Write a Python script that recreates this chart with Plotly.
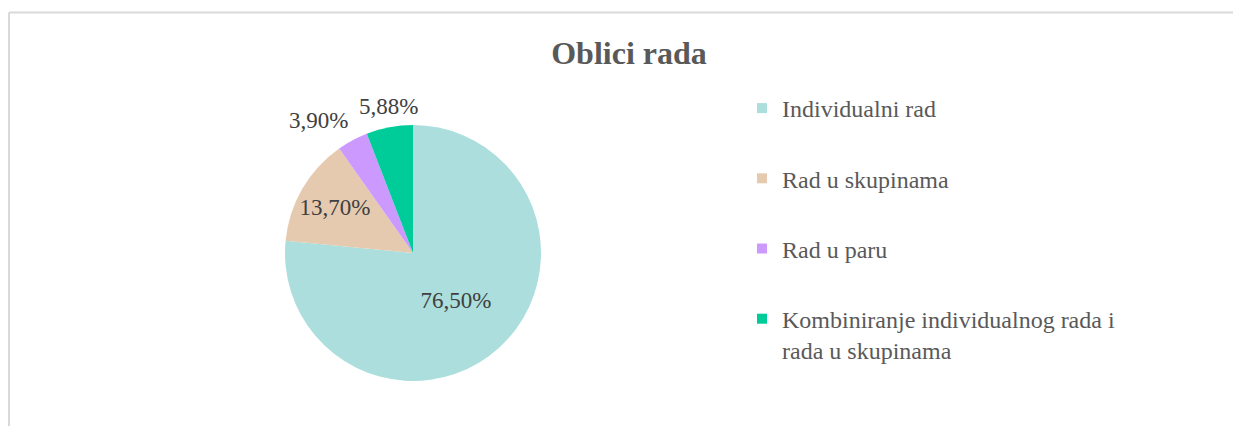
import math
import plotly.graph_objects as go

# Oblici rada – distribution of work forms (percent)
labels = [
    "Individualni rad",
    "Rad u skupinama",
    "Rad u paru",
    "Kombiniranje individualnog rada i rada u skupinama",
]
legend_labels = [
    "Individualni rad",
    "Rad u skupinama",
    "Rad u paru",
    "Kombiniranje individualnog rada i<br>rada u skupinama",
]
values = [76.50, 13.70, 3.90, 5.88]
colors = ["#ABDEDC", "#E5CAB0", "#CC99FF", "#00CC99"]
inside_label = [True, True, False, False]

W, H = 1233, 426
FONT = "Liberation Serif"
LABEL_COLOR = "#404040"
TEXT_COLOR = "#595959"

# Pie placement in pixels, converted to paper domain
cx, cy, r = 413, 253, 128

text = [f"{v:.2f}%".replace(".", ",") for v in values]

fig = go.Figure()
fig.add_trace(go.Pie(
    labels=labels,
    values=values,
    text=text,
    textinfo="text",
    textposition=["inside" if t else "none" for t in inside_label],
    insidetextorientation="horizontal",
    sort=False,
    direction="clockwise",
    rotation=0,
    marker=dict(colors=colors, line=dict(width=0)),
    textfont=dict(family=FONT, size=23, color=LABEL_COLOR),
    showlegend=False,
    hoverinfo="label+percent",
    domain=dict(
        x=[(cx - r) / W, (cx + r) / W],
        y=[(H - cy - r) / H, (H - cy + r) / H],
    ),
))

# Outside labels: placed just beyond the rim at each slice's mid-angle
total = sum(values)
annotations = []
cum = 0.0
for v, t, inside in zip(values, text, inside_label):
    mid = (cum + v / 2) / total * 2 * math.pi  # clockwise from 12 o'clock
    cum += v
    if inside:
        continue
    dx, dy = math.sin(mid), math.cos(mid)  # dy positive = up
    rr = r + 6
    px = cx + rr * dx
    py = cy - rr * dy
    if abs(dx) < 0.3:
        xanchor = "center"
    else:
        xanchor = "left" if dx > 0 else "right"
    yanchor = "bottom" if dy > 0 else "top"
    annotations.append(dict(
        text=t, showarrow=False,
        xref="paper", yref="paper",
        x=px / W, y=1 - py / H,
        xanchor=xanchor, yanchor=yanchor,
        font=dict(family=FONT, size=23, color=LABEL_COLOR),
    ))

# Legend entries, one group each so the spacing can be set
for name, col in zip(legend_labels, colors):
    fig.add_trace(go.Scatter(
        x=[None], y=[None], mode="markers", name=name,
        legendgroup=name,
        marker=dict(symbol="square", size=10, color=col),
        hoverinfo="skip",
    ))

border = dict(color="#D9D9D9", width=2)
fig.update_layout(
    width=W, height=H,
    margin=dict(l=0, r=0, t=0, b=0),
    paper_bgcolor="white",
    plot_bgcolor="white",
    xaxis=dict(visible=False),
    yaxis=dict(visible=False),
    title=dict(
        text="<b>Oblici rada</b>",
        x=629 / W, xanchor="center",
        y=1 - 53 / H, yanchor="middle",
        font=dict(family=FONT, size=32, color=TEXT_COLOR),
    ),
    legend=dict(
        x=742 / W, xanchor="left",
        y=1 - 86 / H, yanchor="top",
        font=dict(family=FONT, size=24, color=TEXT_COLOR),
        tracegroupgap=36,
        valign="top",
        bgcolor="rgba(0,0,0,0)",
    ),
    annotations=annotations,
    shapes=[
        dict(type="line", xref="paper", yref="paper",
             x0=9 / W, x1=1, y0=1 - 12.5 / H, y1=1 - 12.5 / H, line=border),
        dict(type="line", xref="paper", yref="paper",
             x0=9 / W, x1=9 / W, y0=0, y1=1 - 12.5 / H, line=border),
    ],
)

fig.write_html("out.html")
